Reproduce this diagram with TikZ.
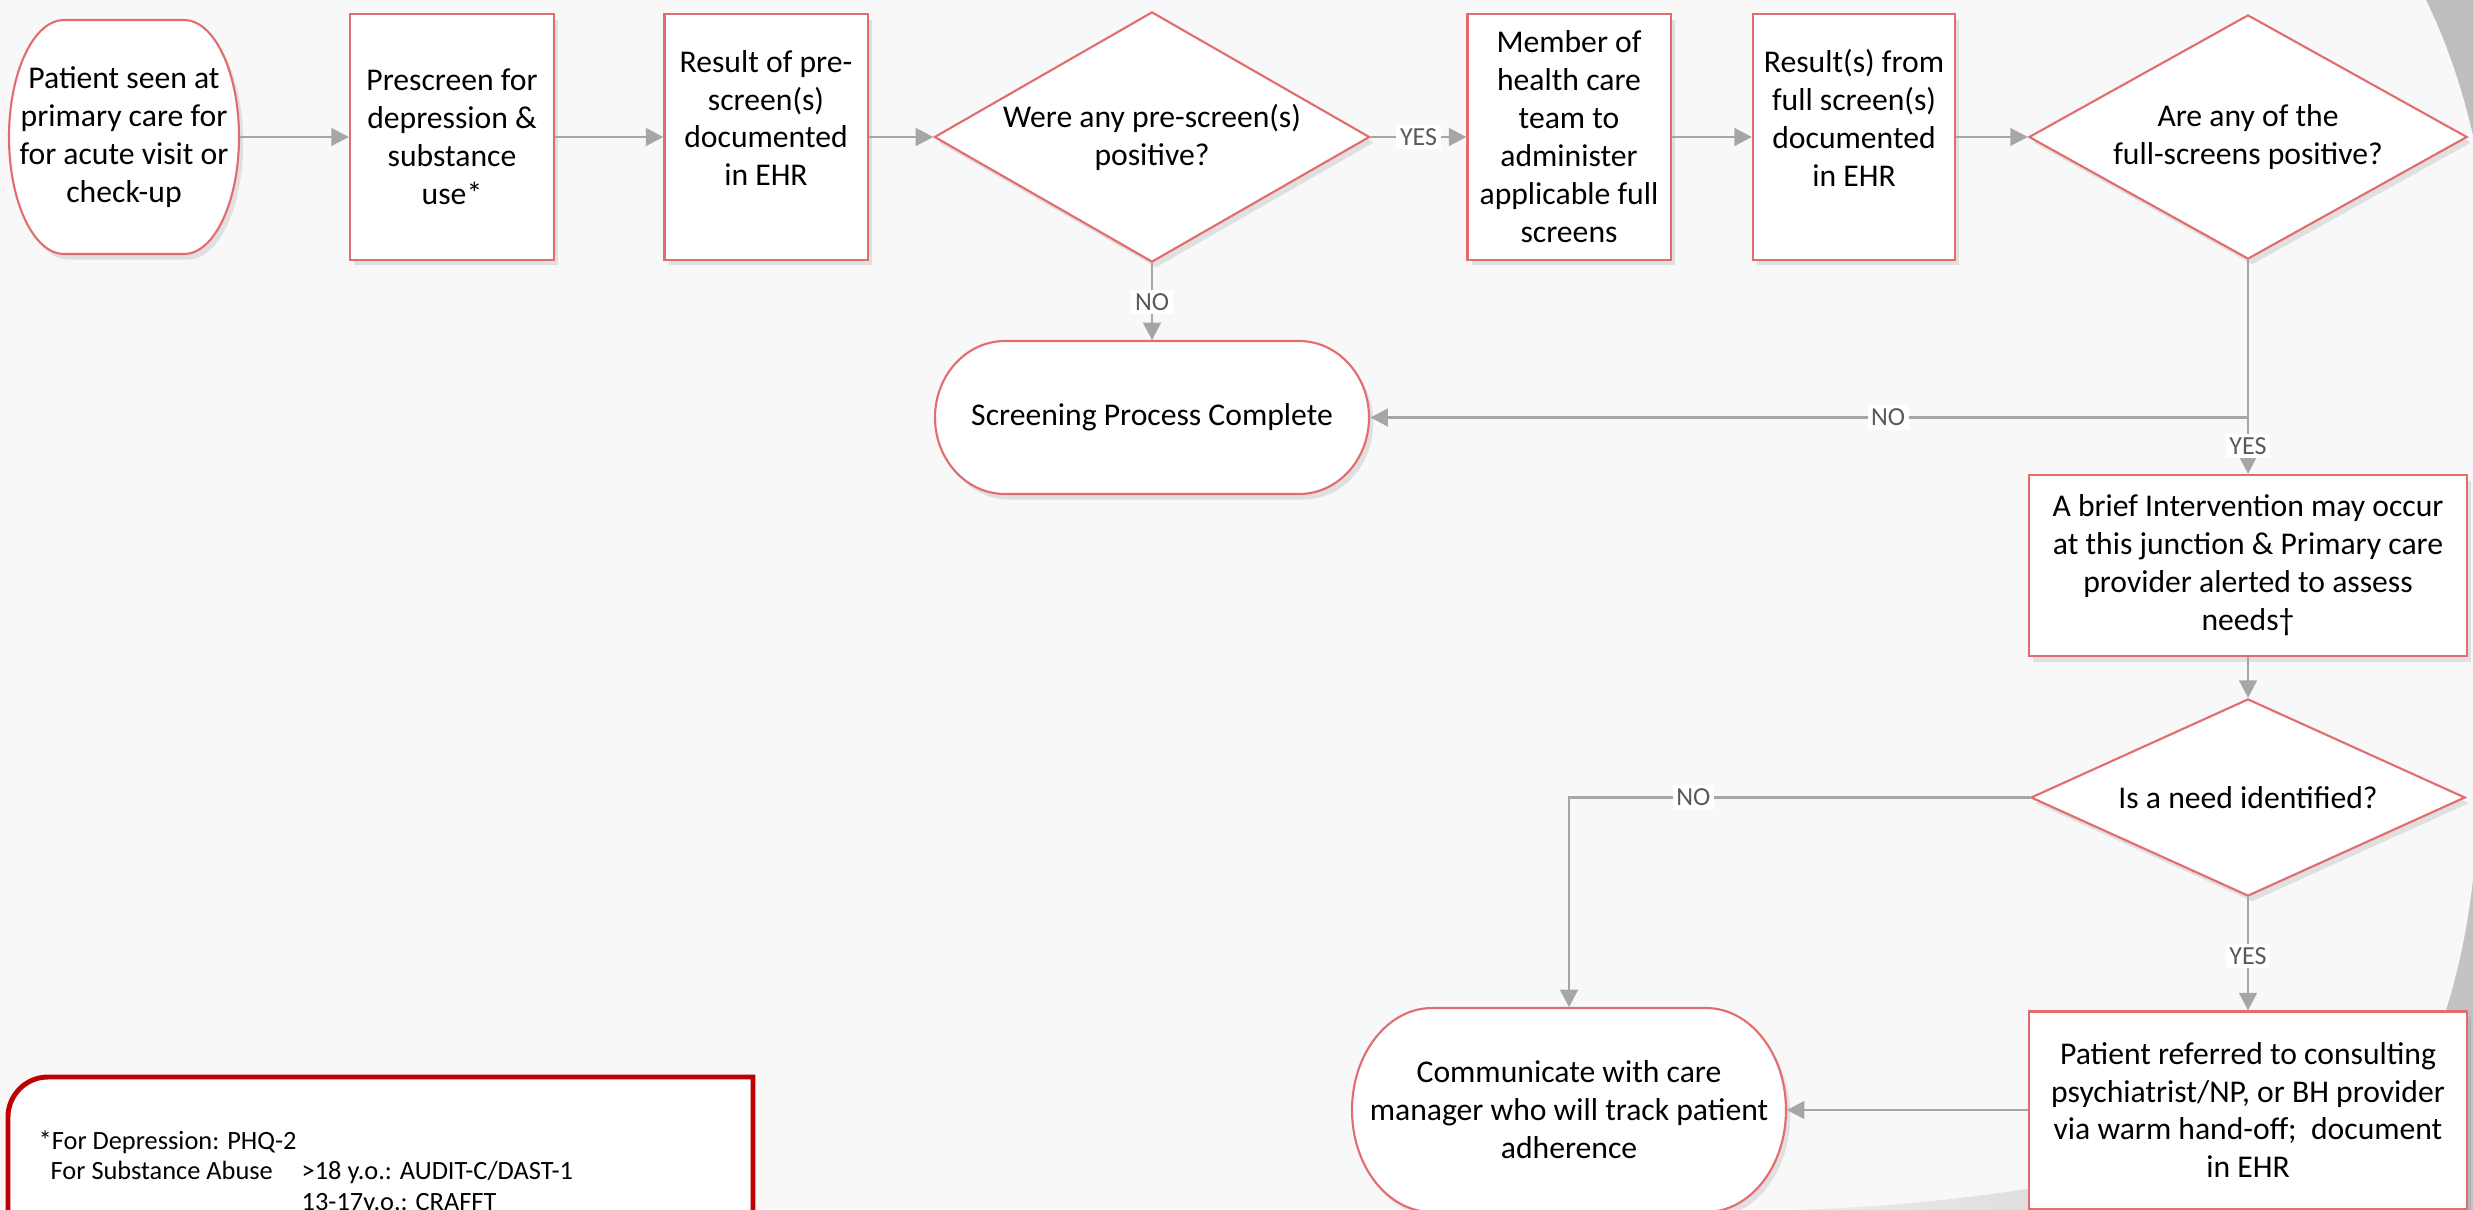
\documentclass[tikz,border=0pt]{standalone}
\usepackage{fontspec}
\setmainfont{Carlito}
\usetikzlibrary{shapes.geometric,arrows.meta,shadows}
\definecolor{boxred}{RGB}{226,108,110}
\definecolor{flowgray}{RGB}{166,166,166}
\definecolor{labgray}{RGB}{89,89,89}
\definecolor{slidebg}{RGB}{248,248,248}
\definecolor{edgegray}{RGB}{190,190,190}
\definecolor{legred}{RGB}{192,0,0}

\begin{document}
\begin{tikzpicture}[x=0.01cm,y=0.01cm,
    boxshadow/.style={drop shadow={shadow xshift=1.2pt,shadow yshift=-1.6pt,opacity=0.2}},
    procbox/.style={draw=boxred,line width=0.6pt,fill=white,boxshadow,inner sep=0pt,align=center,font=\fontsize{9}{10.8}\selectfont},
    decision/.style={procbox,diamond},
    termline/.style={draw=boxred,line width=0.6pt,fill=white,boxshadow},
    termtext/.style={inner sep=0pt,align=center,font=\fontsize{9}{10.8}\selectfont},
    flow/.style={draw=flowgray,line width=0.8pt,-{Triangle[length=5pt,width=5pt]}},
    lbl/.style={fill=white,text=labgray,inner sep=1pt,font=\fontsize{7.4}{8}\selectfont},
    legtext/.style={inner sep=0pt,anchor=base west,font=\fontsize{7.5}{9}\selectfont}]
      \useasboundingbox (0,0) rectangle (2473,-1209);
      \clip (0,0) rectangle (2473,-1209);
      %background
      \fill[slidebg] (0,0) rectangle (2473,-1209);
      \fill[edgegray] (2426,0) .. controls (2446,-40) and (2463,-90) .. (2474,-140) -- (2474,0) -- cycle;
      \shade[left color=black!7,right color=black!24] (1790,-1210) .. controls (2150,-1200) and (2400,-1100) .. (2446,-1010) .. controls (2462,-960) and (2470,-910) .. (2474,-870) -- (2474,-1210) -- cycle;
      %(1) top row
      \draw[termline] (64,-20) -- (184,-20) arc[start angle=90,end angle=-90,x radius=55,y radius=117] -- (64,-254) arc[start angle=270,end angle=90,x radius=55,y radius=117] -- cycle;
      \node[termtext,minimum width=2.3cm,minimum height=2.34cm] (start) at (124,-137) {Patient seen at\\primary care for\\for acute visit or\\check-up};
      \node[procbox,minimum width=2.04cm,minimum height=2.45cm] (pre) at (452,-137) {Prescreen for\\depression \&\\substance\\use*};
      \node[procbox,minimum width=2.03cm,minimum height=2.45cm] (res) at (766,-137) {Result of pre-\\screen(s)\\documented\\in EHR\\ \mbox{}};
      \node[decision,aspect=1.74,minimum width=4.35cm,minimum height=2.5cm] (dia1) at (1152,-137) {Were any pre-screen(s)\\positive?};
      \node[procbox,minimum width=2.03cm,minimum height=2.45cm] (member) at (1569,-137) {Member of\\health care\\team to\\administer\\applicable full\\screens};
      \node[procbox,minimum width=2.02cm,minimum height=2.45cm] (res2) at (1854,-137) {Result(s) from\\full screen(s)\\documented\\in EHR\\ \mbox{}};
      \node[decision,aspect=1.8,minimum width=4.38cm,minimum height=2.44cm] (dia2) at (2248,-137) {Are any of the\\full-screens positive?};
      %(2) end of screening
      \draw[termline] (1005,-341) -- (1299,-341) arc[start angle=90,end angle=-90,x radius=70,y radius=76.5] -- (1005,-494) arc[start angle=270,end angle=90,x radius=70,y radius=76.5] -- cycle;
      \node[termtext,minimum width=4.35cm,minimum height=1.53cm] (done) at (1152,-417.5) {Screening Process Complete};
      %(3) right column
      \node[procbox,minimum width=4.38cm,minimum height=1.81cm] (brief) at (2248,-565.5) {A brief Intervention may occur\\at this junction \& Primary care\\provider alerted to assess\\needs†};
      \node[decision,aspect=2.2,minimum width=4.34cm,minimum height=1.97cm] (dia3) at (2248,-797.5) {Is a need identified?};
      \node[procbox,minimum width=4.37cm,minimum height=1.97cm] (refer) at (2248,-1110) {Patient referred to consulting\\psychiatrist/NP, or BH provider\\via warm hand-off;\ \ document\\in EHR};
      \draw[termline] (1432,-1008) -- (1706,-1008) arc[start angle=90,end angle=-90,x radius=80,y radius=102] -- (1432,-1212) arc[start angle=270,end angle=90,x radius=80,y radius=102] -- cycle;
      \node[termtext,minimum width=4.34cm,minimum height=2.04cm] (care) at (1569,-1110) {Communicate with care\\manager who will track patient\\adherence};
      %(4) arrows
      \draw[flow] (start.east) -- (pre.west);
      \draw[flow] (pre.east) -- (res.west);
      \draw[flow] (res.east) -- (dia1.west);
      \draw[flow] (dia1.east) -- node[lbl]{YES} (member.west);
      \draw[flow] (dia1.south) -- node[lbl]{NO} (done.north);
      \draw[flow] (member.east) -- (res2.west);
      \draw[flow] (res2.east) -- (dia2.west);
      \draw[flow] (dia2.south) -- node[lbl,pos=0.87]{YES} (brief.north);
      \coordinate (fork) at (dia2.south |- done.east);
      \draw[flow] (fork) -- node[lbl,pos=0.41]{NO} (done.east);
      \draw[flow] (brief.south) -- (dia3.north);
      \draw[flow] (dia3.west) -| node[lbl,pos=0.365]{NO} (care.north);
      \draw[flow] (dia3.south) -- node[lbl,pos=0.52]{YES} (refer.north);
      \draw[flow] (refer.west) -- (care.east);
      %(5) footnote box
      \draw[legred,line width=1.4pt,fill=white] (8,-1230) [rounded corners=0.4cm] -- (8,-1077) [sharp corners] -- (753,-1077) -- (753,-1230);
      \draw (38,-1149) node[legtext] (legdep) {*For Depression: PHQ-2};
      \draw (50,-1179) node[legtext] (legsub) {For Substance Abuse};
      \draw (301,-1179) node[legtext] (legadult) {>18 y.o.: AUDIT-C/DAST-1};
      \draw (301,-1210) node[legtext] (legteen) {13-17y.o.: CRAFFT};
\end{tikzpicture}
\end{document}
